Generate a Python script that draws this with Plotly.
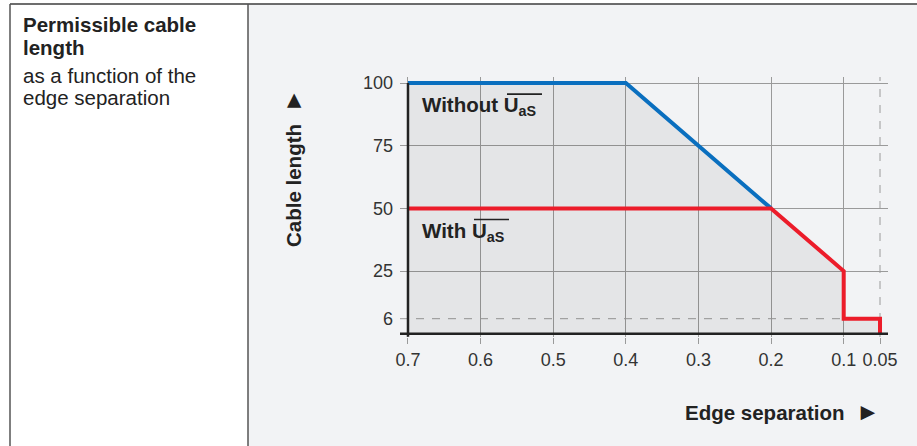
import plotly.graph_objects as go

# ---- data ----
x_ticks = [0.7, 0.6, 0.5, 0.4, 0.3, 0.2, 0.1, 0.05]
x_tick_text = ["0.7", "0.6", "0.5", "0.4", "0.3", "0.2", "0.1", "0.05"]
x_grid = [0.7, 0.6, 0.5, 0.4, 0.3, 0.2, 0.1]
y_ticks = [6, 25, 50, 75, 100]
y_grid = [25, 50, 75, 100]

without_x = [0.7, 0.4, 0.2]
without_y = [100, 100, 50]
with_x = [0.7, 0.2, 0.1, 0.1, 0.05, 0.05]
with_y = [50, 50, 25, 6, 6, 0]
envelope_x = [0.7, 0.4, 0.2, 0.1, 0.1, 0.05, 0.05]
envelope_y = [100, 100, 50, 25, 6, 6, 0]

title_lines = ["<b>Permissible cable</b>", "<b>length</b>", "as a function of the", "edge separation"]

BLUE = "#0a6fbf"
RED = "#ec1c2a"
GRID = "#9a9a9a"
FONT = "Liberation Sans"
TXT = "#222222"

fig = go.Figure()
fig.add_trace(go.Scatter(x=envelope_x, y=envelope_y, mode="none", fill="tozeroy",
                         fillcolor="rgba(0,0,0,0.055)", hoverinfo="skip", showlegend=False))
fig.add_trace(go.Scatter(x=without_x, y=without_y, mode="lines",
                         line=dict(color=BLUE, width=4), showlegend=False))
fig.add_trace(go.Scatter(x=with_x, y=with_y, mode="lines",
                         line=dict(color=RED, width=4), showlegend=False))

W, H = 917, 446
px = lambda v: v / W
py = lambda v: (H - v) / H

LBL_WITHOUT_Y = 90.8
LBL_WITH_Y = 40.4

shapes = [
    # right panel background
    dict(type="rect", xref="paper", yref="paper", x0=px(248), x1=1, y0=0, y1=py(4),
         fillcolor="#f2f3f5", line=dict(width=0), layer="below"),
    # borders
    dict(type="line", xref="paper", yref="paper", x0=px(10), x1=1, y0=py(4), y1=py(4),
         line=dict(color="#3c3c3c", width=1.5)),
    dict(type="line", xref="paper", yref="paper", x0=px(10), x1=px(10), y0=0, y1=py(4),
         line=dict(color="#555555", width=1.5)),
    dict(type="line", xref="paper", yref="paper", x0=px(248), x1=px(248), y0=0, y1=py(4),
         line=dict(color="#555555", width=1.5)),
    # dashed grid lines
    dict(type="line", xref="x", yref="y domain", x0=x_ticks[-1], x1=x_ticks[-1], y0=0, y1=1,
         line=dict(color=GRID, width=1, dash="8px,8px"), layer="below"),
    dict(type="line", xref="x domain", yref="y", x0=0, x1=0.984, y0=y_ticks[0], y1=y_ticks[0],
         line=dict(color=GRID, width=1, dash="8px,8px"), layer="below"),
    # axis lines
    dict(type="line", xref="x domain", yref="y", x0=0, x1=1, y0=0, y1=0,
         line=dict(color="#222222", width=2.5)),
    dict(type="line", xref="x", yref="y", x0=x_ticks[0], x1=x_ticks[0], y0=-1.2, y1=y_ticks[-1],
         line=dict(color="#222222", width=2.5)),
    # overlines above U_aS
    dict(type="line", xref="x", yref="y", xsizemode="pixel", ysizemode="pixel",
         xanchor=without_x[0], yanchor=LBL_WITHOUT_Y, x0=99, x1=134, y0=12, y1=12,
         line=dict(color=TXT, width=1.6)),
    dict(type="line", xref="x", yref="y", xsizemode="pixel", ysizemode="pixel",
         xanchor=with_x[0], yanchor=LBL_WITH_Y, x0=66, x1=101, y0=13, y1=13,
         line=dict(color=TXT, width=1.6)),
]

title_y = [24.7, 47.3, 75.7, 97.3]
annotations = [
    dict(xref="paper", yref="paper", x=px(21), y=py(yy), xanchor="left", yanchor="middle",
         align="left", showarrow=False, text=t,
         font=dict(family=FONT, size=20.5, color=TXT))
    for t, yy in zip(title_lines, title_y)
] + [
    dict(xref="x", yref="y", x=without_x[0], y=LBL_WITHOUT_Y, xshift=12, xanchor="left",
         yanchor="middle", showarrow=False, text="<b>Without U<sub>aS</sub></b>",
         font=dict(family=FONT, size=20.5, color=TXT)),
    dict(xref="x", yref="y", x=with_x[0], y=LBL_WITH_Y, xshift=12, xanchor="left",
         yanchor="middle", showarrow=False, text="<b>With U<sub>aS</sub></b>",
         font=dict(family=FONT, size=20.5, color=TXT)),
    dict(xref="paper", yref="paper", x=px(292), y=py(168), xanchor="center", yanchor="middle",
         textangle=-90, showarrow=False,
         text='<b>Cable length  <span style="font-size:24px">►</span></b>',
         font=dict(family=FONT, size=20.5, color=TXT)),
    dict(xref="paper", yref="paper", x=px(782), y=py(411), xanchor="center", yanchor="middle",
         showarrow=False,
         text='<b>Edge separation  <span style="font-size:24px">►</span></b>',
         font=dict(family=FONT, size=20.5, color=TXT)),
]

fig.update_layout(
    width=W, height=H, margin=dict(l=0, r=0, t=0, b=0, pad=0, autoexpand=False),
    paper_bgcolor="white", plot_bgcolor="rgba(0,0,0,0)",
    shapes=shapes, annotations=annotations, showlegend=False,
    xaxis=dict(domain=[px(400), px(888)], range=[0.711, 0.039], tickmode="array",
               automargin=False,
               tickvals=x_ticks, ticktext=x_tick_text, ticks="outside", ticklen=6,
               tickcolor=GRID, showgrid=False, zeroline=False, showline=False,
               tickfont=dict(family=FONT, size=18, color="#333333"),
               minor=dict(tickmode="array", tickvals=x_grid, showgrid=True,
                          gridcolor=GRID, gridwidth=1, ticks="")),
    yaxis=dict(domain=[py(337), py(77)], range=[-1.3, 102.4], tickmode="array",
               automargin=False,
               tickvals=y_ticks, ticks="", showgrid=False, zeroline=False, showline=False,
               ticklabelstandoff=6,
               tickfont=dict(family=FONT, size=18, color="#333333"),
               minor=dict(tickmode="array", tickvals=y_grid, showgrid=True,
                          gridcolor=GRID, gridwidth=1, ticks="")),
)

fig.write_html("out.html", config={"displayModeBar": False},
               post_script="document.body.style.margin='0px';")
